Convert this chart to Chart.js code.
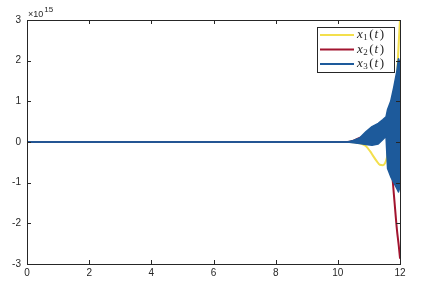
<!DOCTYPE html>
<html>
<head>
<meta charset="utf-8">
<script src="https://cdn.jsdelivr.net/npm/chart.js@4.4.1/dist/chart.umd.min.js"></script>
<style>
  html, body { margin: 0; padding: 0; background: #fff; }
  #c { display: block; }
</style>
</head>
<body>
<canvas id="c" width="422" height="290"></canvas>
<script>
// Werte in Einheiten von 10^15
var seriesNames = ['x1(t)', 'x2(t)', 'x3(t)'];

var t1 = [0, 10.4, 10.7, 10.9, 11.03, 11.15, 11.25, 11.35, 11.45, 11.52, 11.58, 11.62, 11.7, 11.8, 11.88, 11.93, 11.97, 12];
var x1 = [0, 0, -0.03, -0.1, -0.22, -0.36, -0.47, -0.56, -0.57, -0.52, -0.38, -0.2, 0.1, 0.5, 1.2, 2.0, 2.6, 3.0];

var t2 = [0, 10.3, 10.5, 10.7, 10.9, 11.1, 11.3, 11.45, 11.54, 11.6, 11.66, 11.73, 11.81, 11.9, 11.96, 12];
var x2 = [0, 0, 0.03, 0.1, 0.15, 0.18, 0.2, 0.21, 0.2, 0.05, -0.25, -0.65, -1.35, -2.15, -2.55, -2.85];

// x3 oszilliert sehr schnell -> obere und untere Huellkurve
var t3      = [0, 10.3, 10.5, 10.7, 10.9, 11.1, 11.3, 11.45, 11.55, 11.6, 11.7, 11.8, 11.9, 11.95, 12];
var x3Upper = [0, 0, 0.04, 0.1, 0.25, 0.38, 0.46, 0.55, 0.62, 0.8, 1.0, 1.35, 1.75, 2.05, 1.95];
var x3Lower = [0, 0, -0.02, -0.04, -0.06, -0.08, -0.05, 0.06, 0.14, -0.65, -0.85, -1.0, -1.15, -1.23, -1.1];

var xTicks = [0, 2, 4, 6, 8, 10, 12];
var yTicks = [-3, -2, -1, 0, 1, 2, 3];
var exponentLabel = ['\u00d710', '15'];

var colors = ['#F3DF4C', '#A2142F', '#1D5A9B'];
var axisColor = '#262626';

function pts(xs, ys) {
    return xs.map(function (x, i) { return { x: x, y: ys[i] }; });
}

// LaTeX-artiges Label: x kursiv, Index tiefgestellt, (t) mit kursivem t
function drawMathLabel(ctx, text, x, y) {
    var it = 'italic 13px "Liberation Serif"';
    var up = '13px "Liberation Serif"';
    var sub = '9px "Liberation Serif"';
    ctx.textBaseline = 'middle';
    ctx.textAlign = 'left';
    ctx.fillStyle = axisColor;
    var parts = [
        [text.charAt(0), it, 0, 0.5],
        [text.charAt(1), sub, 3, 1.5],
        [text.charAt(2), up, 0, 1],
        [text.charAt(3), it, 0, 1.5],
        [text.charAt(4), up, 0, 0]
    ];
    parts.forEach(function (p) {
        ctx.font = p[1];
        ctx.fillText(p[0], x, y + p[2]);
        x += ctx.measureText(p[0]).width + p[3];
    });
}

var matlabAxes = {
    id: 'matlabAxes',
    afterDraw: function (chart) {
        var ctx = chart.ctx;
        var a = chart.chartArea;
        var xs = chart.scales.x, ys = chart.scales.y;
        var tl = 4;
        ctx.save();
        ctx.strokeStyle = axisColor;
        ctx.lineWidth = 1;
        ctx.beginPath();
        xTicks.forEach(function (v) {
            var px = Math.round(xs.getPixelForValue(v)) + 0.5;
            ctx.moveTo(px, a.bottom); ctx.lineTo(px, a.bottom - tl);
            ctx.moveTo(px, a.top); ctx.lineTo(px, a.top + tl);
        });
        yTicks.forEach(function (v) {
            var py = Math.round(ys.getPixelForValue(v)) + 0.5;
            ctx.moveTo(a.left, py); ctx.lineTo(a.left + tl, py);
            ctx.moveTo(a.right, py); ctx.lineTo(a.right - tl, py);
        });
        ctx.stroke();
        ctx.strokeRect(Math.round(a.left) + 0.5, Math.round(a.top) + 0.5,
            Math.round(a.right - a.left), Math.round(a.bottom - a.top));

        // Exponent oben links
        ctx.fillStyle = axisColor;
        ctx.textBaseline = 'alphabetic';
        ctx.textAlign = 'left';
        ctx.font = '9px "Liberation Sans"';
        ctx.fillText(exponentLabel[0], a.left + 1, a.top - 3);
        var w = ctx.measureText(exponentLabel[0]).width;
        ctx.font = '8px "Liberation Sans"';
        ctx.fillText(exponentLabel[1], a.left + 2 + w, a.top - 8);

        // Legende
        var lx = 317, ly = 27, lw = 77, lh = 45;
        ctx.fillStyle = '#fff';
        ctx.fillRect(lx, ly, lw, lh);
        ctx.strokeStyle = axisColor;
        ctx.lineWidth = 1;
        ctx.strokeRect(lx + 0.5, ly + 0.5, lw, lh);
        seriesNames.forEach(function (name, i) {
            var yy = ly + 8 + i * 14.5;
            ctx.strokeStyle = colors[i];
            ctx.lineWidth = 2;
            ctx.beginPath();
            ctx.moveTo(lx + 3, yy);
            ctx.lineTo(lx + 37, yy);
            ctx.stroke();
            drawMathLabel(ctx, name, lx + 40, yy);
        });
        ctx.restore();
    }
};

var tickFont = { family: 'Liberation Sans', size: 10 };

new Chart(document.getElementById('c').getContext('2d'), {
    type: 'line',
    data: {
        datasets: [
            { label: seriesNames[0], data: pts(t1, x1), borderColor: colors[0], borderWidth: 2,
              cubicInterpolationMode: 'monotone', fill: false, order: 2 },
            { label: seriesNames[1], data: pts(t2, x2), borderColor: colors[1], borderWidth: 2,
              cubicInterpolationMode: 'monotone', fill: false, order: 1 },
            { label: seriesNames[2], data: pts(t3, x3Upper), borderColor: colors[2], borderWidth: 1.5,
              fill: false, order: 0 },
            { label: seriesNames[2] + ' lower', data: pts(t3, x3Lower), borderColor: colors[2], borderWidth: 1.5,
              backgroundColor: colors[2], fill: '-1', order: 0 }
        ]
    },
    options: {
        responsive: false,
        animation: false,
        devicePixelRatio: 1,
        layout: { padding: { top: 20, right: 22, left: 0, bottom: 0 } },
        elements: { point: { radius: 0 }, line: { borderCapStyle: 'round', borderJoinStyle: 'round' } },
        plugins: { legend: { display: false }, tooltip: { enabled: false } },
        scales: {
            x: {
                type: 'linear', min: 0, max: 12,
                afterFit: function (s) { s.height = 26; },
                afterBuildTicks: function (s) { s.ticks = xTicks.map(function (v) { return { value: v }; }); },
                grid: { display: false, drawTicks: false },
                border: { display: false },
                ticks: { padding: 3, color: axisColor, font: tickFont, maxRotation: 0 }
            },
            y: {
                type: 'linear', min: -3, max: 3,
                afterFit: function (s) { s.width = 27; },
                afterBuildTicks: function (s) { s.ticks = yTicks.map(function (v) { return { value: v }; }); },
                grid: { display: false, drawTicks: false },
                border: { display: false },
                ticks: { padding: 6, color: axisColor, font: tickFont }
            }
        }
    },
    plugins: [matlabAxes]
});
</script>
</body>
</html>
